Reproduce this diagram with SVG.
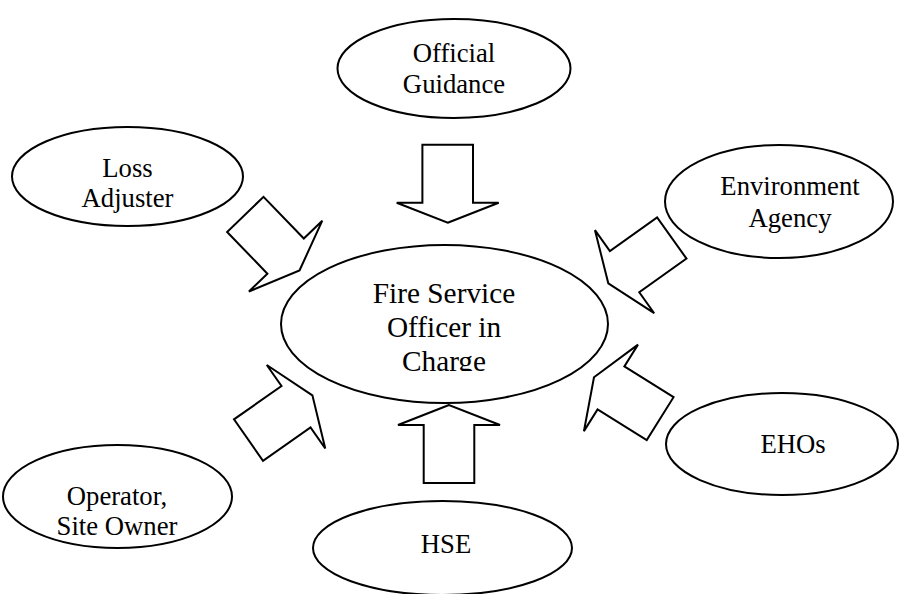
<svg xmlns="http://www.w3.org/2000/svg" xmlns:xlink="http://www.w3.org/1999/xlink" width="904" height="594" viewBox="0 0 904 594">
  <style>
    .node { fill: #ffffff; stroke: #000000; stroke-width: 2; }
    .label { font-family: "Liberation Serif", "Times New Roman", serif; font-size: 26.7px; fill: #000000; text-anchor: middle; }
    .big { font-size: 29.3px; }
    .flow { fill: #ffffff; stroke: #000000; stroke-width: 2; stroke-linejoin: miter; }
  </style>
  <defs>
    <!-- Wide-headed block arrow, tip at origin, pointing along +x -->
    <polygon id="blockArrow" points="0,0 -20,-51 -20,-25.3 -78,-25.3 -78,25.3 -20,25.3 -20,51"/>
    <clipPath id="centreClip">
      <rect x="270" y="240" width="350" height="131"/>
    </clipPath>
  </defs>

  <rect width="904" height="594" fill="#ffffff"/>

  <!-- Block arrows feeding into the centre -->
  <g id="connectors" class="flow">
    <use xlink:href="#blockArrow" href="#blockArrow" transform="translate(447.7,222.7) rotate(90)"/>
    <use xlink:href="#blockArrow" href="#blockArrow" transform="translate(449,405) rotate(-90)"/>
    <use xlink:href="#blockArrow" href="#blockArrow" transform="translate(299.5,270.5) rotate(46)"/>
    <use xlink:href="#blockArrow" href="#blockArrow" transform="translate(608.3,283.3) rotate(144.5)"/>
    <use xlink:href="#blockArrow" href="#blockArrow" transform="translate(594,377.3) rotate(-148)"/>
    <use xlink:href="#blockArrow" href="#blockArrow" transform="translate(312.4,395.3) rotate(-35)"/>
  </g>

  <g id="centre">
    <ellipse class="node" cx="444.5" cy="324" rx="163.5" ry="79"/>
    <g clip-path="url(#centreClip)">
      <text class="label big" x="444" y="302.7">Fire Service</text>
      <text class="label big" x="444" y="336.7">Officer in</text>
      <text class="label big" x="444" y="370.7">Charge</text>
    </g>
  </g>

  <g id="official-guidance">
    <ellipse class="node" cx="454" cy="68.5" rx="116.5" ry="49.5"/>
    <text class="label" x="454" y="62">Official</text>
    <text class="label" x="454" y="92.7">Guidance</text>
  </g>

  <g id="loss-adjuster">
    <ellipse class="node" cx="127.5" cy="176.5" rx="115.5" ry="49.5"/>
    <text class="label" x="127.5" y="176.7">Loss</text>
    <text class="label" x="127.5" y="206.7">Adjuster</text>
  </g>

  <g id="environment-agency">
    <ellipse class="node" cx="779" cy="201.5" rx="114" ry="56.5"/>
    <text class="label" x="790" y="195">Environment</text>
    <text class="label" x="790" y="226.7">Agency</text>
  </g>

  <g id="operator">
    <ellipse class="node" cx="117.5" cy="496.5" rx="114.5" ry="51.5"/>
    <text class="label" x="117" y="505">Operator,</text>
    <text class="label" x="117" y="535">Site Owner</text>
  </g>

  <g id="ehos">
    <ellipse class="node" cx="782" cy="444" rx="116" ry="51"/>
    <text class="label" x="793" y="453">EHOs</text>
  </g>

  <g id="hse">
    <ellipse class="node" cx="442.5" cy="548" rx="129.5" ry="47"/>
    <text class="label" x="446" y="553">HSE</text>
  </g>
</svg>
